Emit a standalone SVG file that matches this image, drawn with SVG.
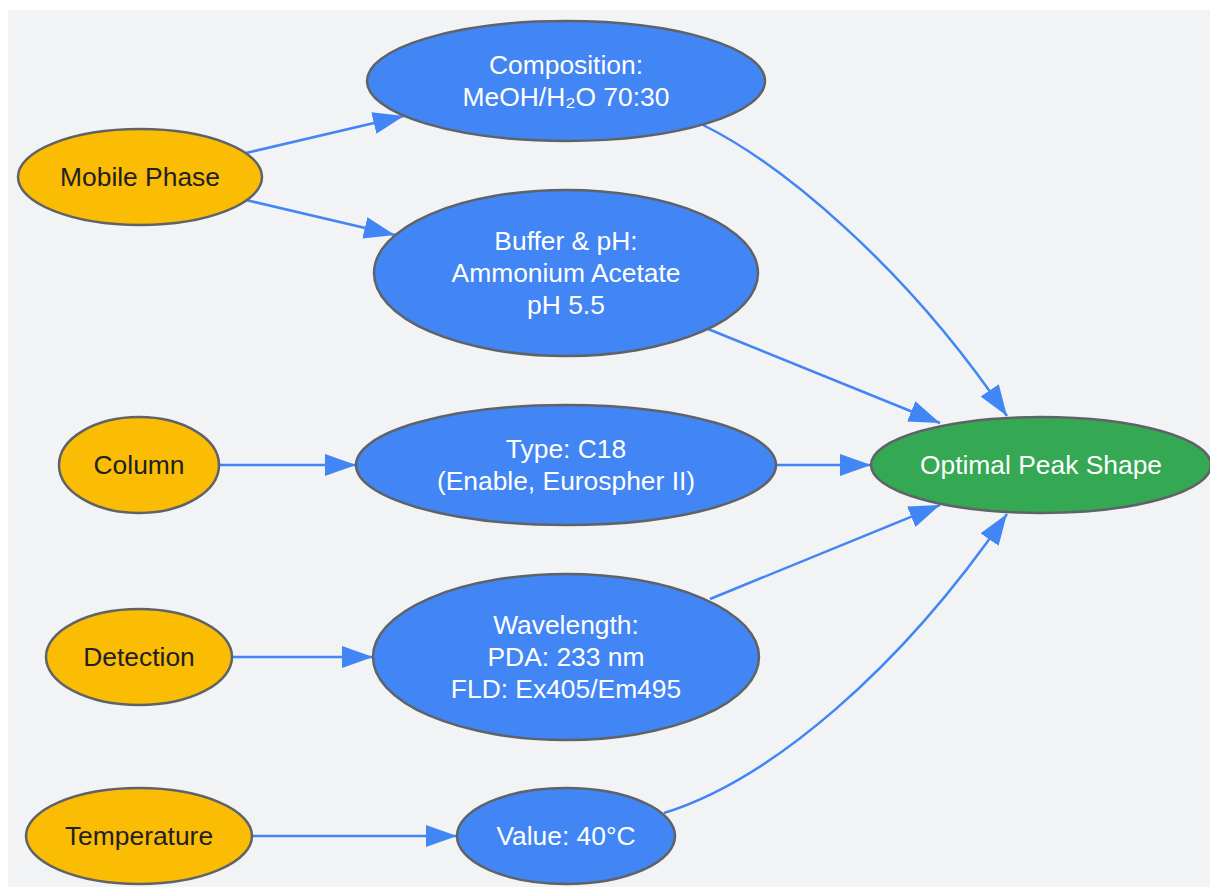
<svg xmlns="http://www.w3.org/2000/svg" width="1210" height="887" viewBox="0 0 1210 887">
<defs>
<style>
.bg{fill:#f1f3f4}
.n ellipse{stroke:#5f6368;stroke-width:2.5}
.src ellipse{fill:#fbbc04}
.mid ellipse{fill:#4285f4}
.out ellipse{fill:#34a853}
text{font-family:"Liberation Sans",Arial,sans-serif;font-size:26.4px;text-anchor:middle}
.src text{fill:#202124}
.mid text,.out text{fill:#ffffff}
.edges path{fill:none;stroke:#4285f4;stroke-width:2.5}
</style>
<marker id="ah" markerUnits="userSpaceOnUse" markerWidth="32" markerHeight="22" refX="31" refY="11" orient="auto">
<path d="M0,0 L31,11 L0,22 Z" fill="#4285f4"/>
</marker>
</defs>
<rect class="bg" x="8" y="10" width="1202" height="877"/>
<g class="edges">
<path d="M246,153 L404,116" marker-end="url(#ah)"/>
<path d="M246,200 L395,235" marker-end="url(#ah)"/>
<path d="M219,465 L356,465" marker-end="url(#ah)"/>
<path d="M232,657 L373,657" marker-end="url(#ah)"/>
<path d="M252,836 L457,836" marker-end="url(#ah)"/>
<path d="M703,125 C780,163 905,265 1007,416" marker-end="url(#ah)"/>
<path d="M708,329 L940,423" marker-end="url(#ah)"/>
<path d="M776,465 L871,465" marker-end="url(#ah)"/>
<path d="M710,599 L940,505" marker-end="url(#ah)"/>
<path d="M664,813 C770,780 900,670 1007,514" marker-end="url(#ah)"/>
</g>
<g id="mobile" class="n src"><ellipse cx="140" cy="177" rx="122" ry="48"/><text x="140" y="186">Mobile Phase</text></g>
<g id="column" class="n src"><ellipse cx="139" cy="465" rx="80" ry="48"/><text x="139" y="474">Column</text></g>
<g id="detection" class="n src"><ellipse cx="139" cy="657" rx="93" ry="48"/><text x="139" y="666">Detection</text></g>
<g id="temperature" class="n src"><ellipse cx="139" cy="836" rx="113" ry="48"/><text x="139" y="845">Temperature</text></g>
<g id="composition" class="n mid"><ellipse cx="566" cy="81" rx="199" ry="60"/><text x="566" y="74">Composition:</text><text x="566" y="106">MeOH/H₂O 70:30</text></g>
<g id="buffer" class="n mid"><ellipse cx="566" cy="273" rx="192" ry="83"/><text x="566" y="250">Buffer &amp; pH:</text><text x="566" y="282">Ammonium Acetate</text><text x="566" y="314">pH 5.5</text></g>
<g id="type" class="n mid"><ellipse cx="566" cy="465" rx="210" ry="60"/><text x="566" y="458">Type: C18</text><text x="566" y="490">(Enable, Eurospher II)</text></g>
<g id="wavelength" class="n mid"><ellipse cx="566" cy="657" rx="193" ry="83"/><text x="566" y="634">Wavelength:</text><text x="566" y="666">PDA: 233 nm</text><text x="566" y="698">FLD: Ex405/Em495</text></g>
<g id="value" class="n mid"><ellipse cx="566" cy="836" rx="109" ry="48"/><text x="566" y="845">Value: 40°C</text></g>
<g id="optimal" class="n out"><ellipse cx="1041" cy="465" rx="170" ry="48"/><text x="1041" y="474">Optimal Peak Shape</text></g>
</svg>
